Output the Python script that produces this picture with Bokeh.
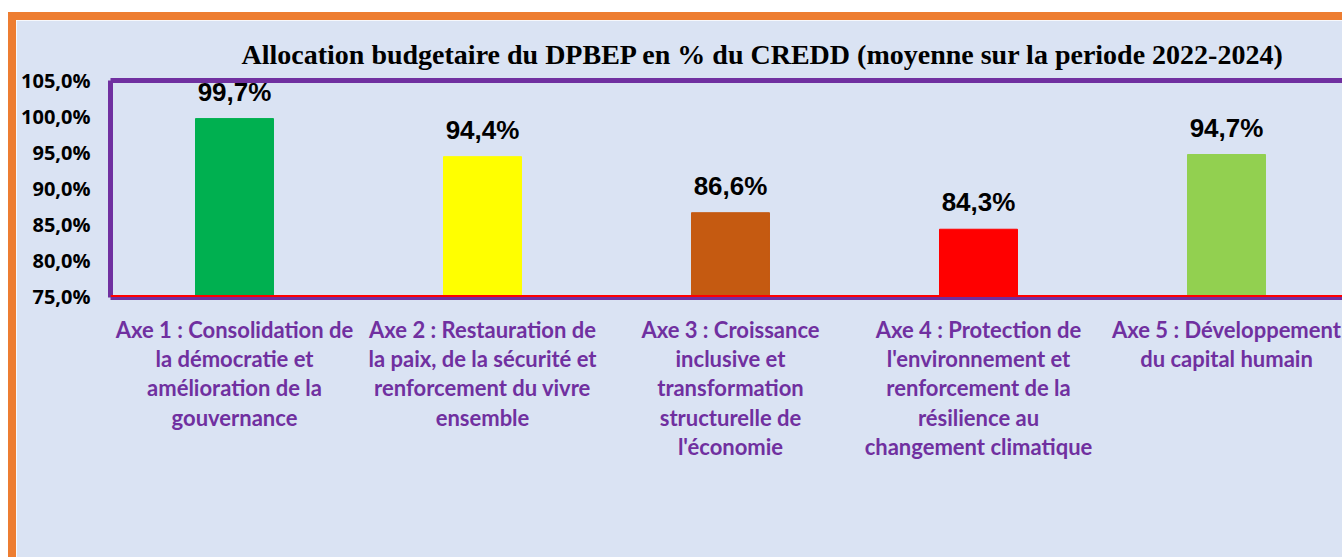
from bokeh.plotting import figure
from bokeh.models import Range1d, LinearAxis, FixedTicker, Span, ColumnDataSource, LabelSet
from bokeh.core.properties import value
from bokeh.embed import file_html
from bokeh.resources import INLINE

title_text = "Allocation budgetaire du DPBEP en % du CREDD (moyenne sur la periode 2022-2024)"
categories = [
    "Axe 1 : Consolidation de\nla démocratie et\namélioration de la\ngouvernance",
    "Axe 2 : Restauration de\nla paix, de la sécurité et\nrenforcement du vivre\nensemble",
    "Axe 3 : Croissance\ninclusive et\ntransformation\nstructurelle de\nl'économie",
    "Axe 4 : Protection de\nl'environnement et\nrenforcement de la\nrésilience au\nchangement climatique",
    "Axe 5 : Développement\ndu capital humain",
]
values = [99.7, 94.4, 86.6, 84.3, 94.7]
colors = ["#00B050", "#FFFF00", "#C55A11", "#FF0000", "#92D050"]
y_ticks = [75, 80, 85, 90, 95, 100, 105]
y_tick_labels = ["75,0%", "80,0%", "85,0%", "90,0%", "95,0%", "100,0%", "105,0%"]

BG = "#DAE3F3"
PURPLE = "#7030A0"
ORANGE = "#ED7D31"

xs = list(range(len(categories)))
labels = [f"{v:.1f}%".replace(".", ",") for v in values]
src = ColumnDataSource(dict(x=xs, top=values, color=colors, label=labels))

p = figure(width=1334, height=545, output_backend="svg", toolbar_location=None,
           x_range=Range1d(-0.5, 4.5), y_range=Range1d(74.8, 105),
           min_border_left=94, min_border_right=0, min_border_top=60, min_border_bottom=268)
p.styles = {"border-left": f"8px solid {ORANGE}", "border-top": f"8px solid {ORANGE}",
            "margin-top": "12px", "margin-left": "8px"}
p.background_fill_color = BG
p.border_fill_color = BG
p.outline_line_color = None
p.xgrid.visible = False
p.ygrid.visible = False

p.title.text = title_text
p.title.text_font = "Liberation Serif"
p.title.text_font_size = "28px"
p.title.text_font_style = "bold"
p.title.text_color = "black"
p.title.align = "left"
p.title.offset = 131
p.title.standoff = 21

p.vbar(x="x", top="top", bottom=75, width=0.3145, color="color", source=src)

p.add_layout(Span(location=75, dimension="width", line_color="#FF0000", line_width=2))

p.add_layout(LabelSet(x="x", y="top", text="label", source=src, text_align="center",
                      text_baseline="alphabetic", y_offset=18,
                      text_font=value("Liberation Sans"), text_font_size=value("26px"),
                      text_font_style=value("bold"), text_color=value("black")))

yax = p.yaxis[0]
yax.ticker = FixedTicker(ticks=y_ticks)
yax.major_label_overrides = {t: l for t, l in zip(y_ticks, y_tick_labels)}
yax.axis_line_color = PURPLE
yax.axis_line_width = 5
yax.major_tick_line_color = None
yax.minor_tick_line_color = None
yax.major_label_standoff = 14
yax.major_label_text_font = "Open Sans"
yax.major_label_text_font_size = "20px"
yax.major_label_text_font_style = "bold"
yax.major_label_text_color = "black"

xax = p.xaxis[0]
xax.ticker = FixedTicker(ticks=xs)
xax.major_label_overrides = {i: c for i, c in zip(xs, categories)}
xax.axis_line_color = PURPLE
xax.axis_line_width = 5
xax.major_tick_line_color = None
xax.minor_tick_line_color = None
xax.major_label_standoff = 12
xax.major_label_text_font = "Lato"
xax.major_label_text_font_size = "22px"
xax.major_label_text_font_style = "bold"
xax.major_label_text_color = PURPLE
xax.major_label_text_line_height = 1.09

top_ax = LinearAxis(ticker=FixedTicker(ticks=[]), axis_line_color=PURPLE, axis_line_width=5,
                    major_tick_line_color=None, minor_tick_line_color=None,
                    major_label_text_font_size="0px")
p.add_layout(top_ax, "above")

open("out.html", "w").write(file_html(p, INLINE))
